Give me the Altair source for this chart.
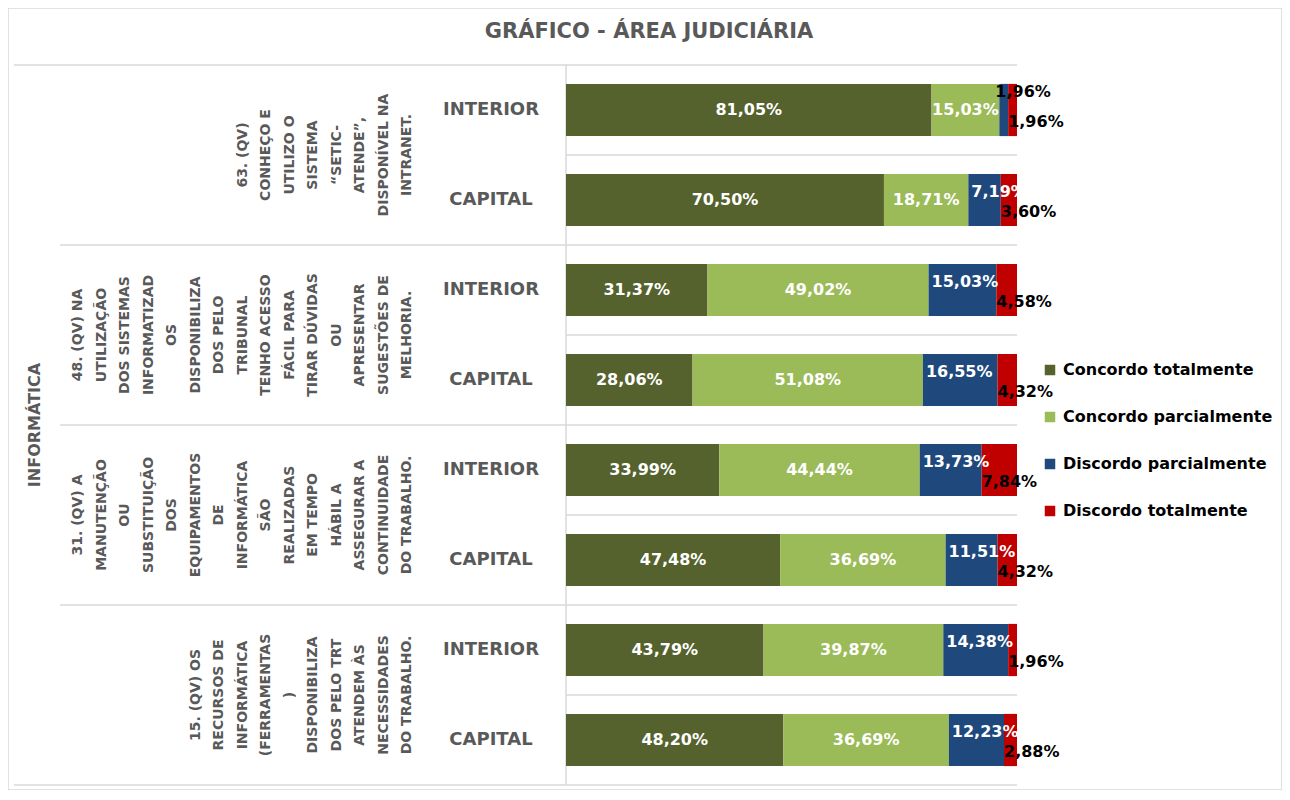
import altair as alt
import pandas as pd

title_text = "GRÁFICO - ÁREA JUDICIÁRIA"
theme_label = "INFORMÁTICA"
categories = ["Concordo totalmente", "Concordo parcialmente", "Discordo parcialmente", "Discordo totalmente"]
colors = ["#55622D", "#9BBB59", "#1F497D", "#C00000"]
locations = ["INTERIOR", "CAPITAL"]
question_ids = ["Q63", "Q48", "Q31", "Q15"]
question_texts = [
    "63. (QV)\nCONHEÇO E\nUTILIZO O\nSISTEMA\n“SETIC-\nATENDE”,\nDISPONÍVEL NA\nINTRANET.",
    "48. (QV) NA\nUTILIZAÇÃO\nDOS SISTEMAS\nINFORMATIZAD\nOS\nDISPONIBILIZA\nDOS PELO\nTRIBUNAL\nTENHO ACESSO\nFÁCIL PARA\nTIRAR DÚVIDAS\nOU\nAPRESENTAR\nSUGESTÕES DE\nMELHORIA.",
    "31. (QV) A\nMANUTENÇÃO\nOU\nSUBSTITUIÇÃO\nDOS\nEQUIPAMENTOS\nDE\nINFORMÁTICA\nSÃO\nREALIZADAS\nEM TEMPO\nHÁBIL A\nASSEGURAR A\nCONTINUIDADE\nDO TRABALHO.",
    "15. (QV) OS\nRECURSOS DE\nINFORMÁTICA\n(FERRAMENTAS\n)\nDISPONIBILIZA\nDOS PELO TRT\nATENDEM ÀS\nNECESSIDADES\nDO TRABALHO.",
]

q63_interior = [81.05, 15.03, 1.96, 1.96]
q63_capital = [70.50, 18.71, 7.19, 3.60]
q48_interior = [31.37, 49.02, 15.03, 4.58]
q48_capital = [28.06, 51.08, 16.55, 4.32]
q31_interior = [33.99, 44.44, 13.73, 7.84]
q31_capital = [47.48, 36.69, 11.51, 4.32]
q15_interior = [43.79, 39.87, 14.38, 1.96]
q15_capital = [48.20, 36.69, 12.23, 2.88]

series = {
    ("Q63", "INTERIOR"): q63_interior,
    ("Q63", "CAPITAL"): q63_capital,
    ("Q48", "INTERIOR"): q48_interior,
    ("Q48", "CAPITAL"): q48_capital,
    ("Q31", "INTERIOR"): q31_interior,
    ("Q31", "CAPITAL"): q31_capital,
    ("Q15", "INTERIOR"): q15_interior,
    ("Q15", "CAPITAL"): q15_capital,
}

rows = [f"{q} {loc}" for q in question_ids for loc in locations]

records = []
for q in question_ids:
    for loc in locations:
        vals = series[(q, loc)]
        for i, (cat, v) in enumerate(zip(categories, vals)):
            records.append({"row": f"{q} {loc}", "question": q, "location": loc,
                             "category": cat, "order": i, "value": v})
df = pd.DataFrame(records)

loc_df = pd.DataFrame([{"row": f"{q} {loc}", "location": loc} for q in question_ids for loc in locations])
q_df = pd.DataFrame({"question": question_ids, "qtext": question_texts})
bounds_df = pd.DataFrame({"b": list(range(len(rows) + 1))})

FONT = "DejaVu Sans"
GRAY = "#595959"
LINE = "#D9D9D9"

# plot geometry (view pixels)
X0, X1 = 558, 1009
Y0, Y1 = 57, 777
Q_RIGHT = 406     # right edge of the question text blocks
Q_LH = 23.5       # line height of question text

xscale = alt.Scale(domain=[0, 1], range=[X0, X1], nice=False, zero=False)
yband = alt.Scale(domain=rows, range=[Y0, Y1], paddingInner=0.42, paddingOuter=0.21)
yq = alt.Scale(domain=question_ids, range=[Y0, Y1], paddingInner=0, paddingOuter=0)
yb = alt.Scale(domain=[0, len(rows)], range=[Y0, Y1], nice=False, zero=False)

stacked = alt.Chart(df).transform_stack(
    stack="value", groupby=["row"], as_=["x0", "x1"],
    sort=[alt.SortField("order")], offset="normalize"
).transform_calculate(
    mid="(datum.x0 + datum.x1) / 2",
    label="replace(format(datum.value, '.2f'), '.', ',') + '%'"
)

bars = stacked.mark_bar().encode(
    x=alt.X("x0:Q", scale=xscale, axis=None),
    x2="x1:Q",
    y=alt.Y("row:N", scale=yband, axis=None),
    color=alt.Color("category:N", scale=alt.Scale(domain=categories, range=colors),
                    legend=alt.Legend(title=None, orient="none", legendX=1034, legendY=354,
                                      symbolType="square", symbolSize=110, symbolStrokeWidth=0,
                                      labelFontSize=16, labelFontWeight="bold", labelFont=FONT,
                                      labelColor="black", rowPadding=31, labelLimit=300,
                                      padding=0, labelOffset=5)),
)

lab_kw = dict(fontSize=16, fontWeight="bold", font=FONT)

main_labels = stacked.transform_filter("datum.order <= 1").mark_text(
    align="center", baseline="middle", color="white", **lab_kw
).encode(
    x=alt.X("mid:Q", scale=xscale, axis=None),
    y=alt.Y("row:N", scale=yband, axis=None),
    text="label:N",
)

blue_labels = stacked.transform_filter("datum.order == 2 && datum.value >= 3").mark_text(
    align="left", baseline="middle", color="white", dx=3, dy=-8, **lab_kw
).encode(
    x=alt.X("x0:Q", scale=xscale, axis=None),
    y=alt.Y("row:N", scale=yband, axis=None),
    text="label:N",
)

blue_small = stacked.transform_filter("datum.order == 2 && datum.value < 3").mark_text(
    align="left", baseline="middle", color="black", dx=-4, dy=-18, **lab_kw
).encode(
    x=alt.X("x0:Q", scale=xscale, axis=None),
    y=alt.Y("row:N", scale=yband, axis=None),
    text="label:N",
)

red_labels = stacked.transform_filter("datum.order == 3").mark_text(
    align="left", baseline="middle", color="black", dx=0, dy=12, **lab_kw
).encode(
    x=alt.X("x0:Q", scale=xscale, axis=None),
    y=alt.Y("row:N", scale=yband, axis=None),
    text="label:N",
)

bounds = alt.Chart(bounds_df)
grid = bounds.mark_rule(color=LINE, strokeWidth=1.5).encode(
    y=alt.Y("b:Q", scale=yb, axis=None),
    x=alt.X(datum=0, scale=xscale, axis=None),
    x2=alt.X2(datum=1),
)
q_lines = bounds.transform_filter("datum.b % 2 == 0 && datum.b > 0 && datum.b < 8").mark_rule(
    color=LINE, strokeWidth=1.5).encode(
    y=alt.Y("b:Q", scale=yb, axis=None),
    x=alt.value(52), x2=alt.value(X0),
)
outer_lines = bounds.transform_filter("datum.b == 0 || datum.b == 8").mark_rule(
    color=LINE, strokeWidth=1.5).encode(
    y=alt.Y("b:Q", scale=yb, axis=None),
    x=alt.value(6), x2=alt.value(X0),
)
axis_line = bounds.transform_filter("datum.b == 0").mark_rule(color=LINE, strokeWidth=1.5).encode(
    x=alt.X(datum=0, scale=xscale, axis=None),
    y=alt.value(Y0), y2=alt.value(Y1),
)

loc_text = alt.Chart(loc_df).mark_text(
    align="center", baseline="middle", fontSize=18, fontWeight="bold", font=FONT, color=GRAY
).encode(
    x=alt.value(483),
    y=alt.Y("row:N", scale=yband, axis=None),
    text="location:N",
)

# multi-line rotated text: first line is at the anchor, following lines stack to the right,
# so the anchor is moved left by the number of extra lines to right-align the blocks
q_text = alt.Chart(q_df).transform_calculate(
    qx=f"{Q_RIGHT} - (length(split(datum.qtext, '\\n')) - 1) * {Q_LH}"
).mark_text(
    angle=270, align="center", baseline="bottom", lineBreak="\n", lineHeight=Q_LH,
    fontSize=14, fontWeight="bold", font=FONT, color=GRAY
).encode(
    x=alt.X("qx:Q", scale=None, axis=None),
    y=alt.Y("question:N", scale=yq, axis=None),
    text="qtext:N",
)

theme_text = alt.Chart(pd.DataFrame({"t": [theme_label]})).mark_text(
    angle=270, align="center", baseline="middle", fontSize=16, fontWeight="bold", font=FONT, color=GRAY
).encode(x=alt.value(27), y=alt.value(417), text="t:N")

title_mark = alt.Chart(pd.DataFrame({"t": [title_text]})).mark_text(
    align="center", baseline="middle", fontSize=21, fontWeight="bold", font=FONT, color=GRAY
).encode(x=alt.value(641), y=alt.value(24), text="t:N")

chart = alt.layer(
    grid, q_lines, outer_lines, axis_line,
    bars, main_labels, blue_labels, blue_small, red_labels,
    loc_text, q_text, theme_text, title_mark,
).resolve_scale(y="independent").properties(
    width=1274, height=782,
    autosize=alt.AutoSizeParams(type="none"),
    padding=0,
).configure_view(stroke=LINE, strokeWidth=1.5)

chart.save("out.html", embed_options={"renderer": "svg", "actions": False})
